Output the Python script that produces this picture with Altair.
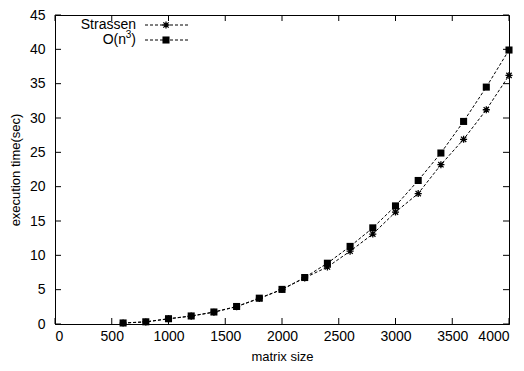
import altair as alt
import pandas as pd

# ---- data ----
sizes = [600, 800, 1000, 1200, 1400, 1600, 1800, 2000, 2200, 2400,
         2600, 2800, 3000, 3200, 3400, 3600, 3800, 4000]
strassen = [0.14, 0.3, 0.75, 1.15, 1.72, 2.52, 3.72, 5.02, 6.72, 8.3,
            10.6, 13.1, 16.3, 19.0, 23.2, 26.9, 31.2, 36.2]
cubic = [0.15, 0.32, 0.77, 1.17, 1.75, 2.55, 3.76, 5.04, 6.77, 8.85,
         11.3, 14.0, 17.2, 20.9, 24.9, 29.5, 34.5, 39.9]
series_names = ["Strassen", "O(n3)"]
cubic_label_parts = ["O(n", "3", ")"]
x_ticks = [0, 500, 1000, 1500, 2000, 2500, 3000, 3500, 4000]
y_ticks = [0, 5, 10, 15, 20, 25, 30, 35, 40, 45]

W, H = 454, 309
FONT = "Liberation Sans"
TICK = 6
ASTERISK = "M-1,0L1,0M0,-1L0,1M-0.75,-0.75L0.75,0.75M-0.75,0.75L0.75,-0.75"
DASH = [3, 2]

df_s = pd.DataFrame({"size": sizes, "time": strassen, "series": series_names[0]})
df_c = pd.DataFrame({"size": sizes, "time": cubic, "series": series_names[1]})

xs = alt.Scale(domain=[0, 4000], nice=False, zero=False)
ys = alt.Scale(domain=[0, 45], nice=False, zero=False)

x_enc = alt.X("size:Q", scale=xs, title="matrix size",
              axis=alt.Axis(values=x_ticks, format="d", ticks=False, grid=False, labelPadding=5,
                            titlePadding=7, domainColor="black", labelOverlap=False))
y_enc = alt.Y("time:Q", scale=ys, title="execution time(sec)",
              axis=alt.Axis(values=y_ticks, format="d", ticks=False, grid=False, labelPadding=10,
                            titlePadding=7, domainColor="black", labelOverlap=False))

def line(df):
    return alt.Chart(df).mark_line(color="black", strokeWidth=1, strokeDash=DASH).encode(
        x=x_enc, y=y_enc)

pts_s = alt.Chart(df_s).mark_point(shape=ASTERISK, size=50, filled=False,
                                   color="black", strokeWidth=1.3, opacity=1).encode(x=x_enc, y=y_enc)
pts_c = alt.Chart(df_c).mark_point(shape="square", size=50, filled=True,
                                   color="black", opacity=1).encode(x=x_enc, y=y_enc)

# inward tick marks on all four sides (gnuplot style)
df_xt = pd.DataFrame({"size": x_ticks})
df_yt = pd.DataFrame({"time": y_ticks})
xt_bot = alt.Chart(df_xt).mark_rule(color="black", strokeWidth=1).encode(
    x=x_enc, y=alt.value(H), y2=alt.value(H - TICK))
xt_top = alt.Chart(df_xt).mark_rule(color="black", strokeWidth=1).encode(
    x=x_enc, y=alt.value(0), y2=alt.value(TICK))
yt_left = alt.Chart(df_yt).mark_rule(color="black", strokeWidth=1).encode(
    y=y_enc, x=alt.value(0), x2=alt.value(TICK))
yt_right = alt.Chart(df_yt).mark_rule(color="black", strokeWidth=1).encode(
    y=y_enc, x=alt.value(W), x2=alt.value(W - TICK))

# legend (top left, gnuplot style: label, then sample)
def txt(s, x, y, size=14, align="right"):
    return alt.Chart(pd.DataFrame({"t": [s]})).mark_text(
        align=align, baseline="middle", font=FONT, fontSize=size, color="black").encode(
        x=alt.value(x), y=alt.value(y), text="t:N")

leg_layers = []
one = pd.DataFrame({"k": [0]})
for i, name in enumerate(series_names):
    yy = 10 + 15 * i
    if i == 0:
        leg_layers.append(txt(name, 81, yy))
    else:
        # O(n^3) with a raised superscript 3
        leg_layers.append(txt(cubic_label_parts[2], 81, yy))
        leg_layers.append(txt(cubic_label_parts[1], 76.3, yy - 5, 10))
        leg_layers.append(txt(cubic_label_parts[0], 71, yy))
    leg_layers.append(alt.Chart(one).mark_rule(color="black", strokeWidth=1, strokeDash=DASH).encode(
        x=alt.value(90), x2=alt.value(133), y=alt.value(yy)))
    if i == 0:
        leg_layers.append(alt.Chart(one).mark_point(shape=ASTERISK, size=50, filled=False,
                                                    color="black", strokeWidth=1.3, opacity=1).encode(
            x=alt.value(111), y=alt.value(yy)))
    else:
        leg_layers.append(alt.Chart(one).mark_point(shape="square", size=50, filled=True,
                                                    color="black", opacity=1).encode(
            x=alt.value(111), y=alt.value(yy)))

chart = alt.layer(
    line(df_s), line(df_c), pts_s, pts_c,
    xt_bot, xt_top, yt_left, yt_right, *leg_layers
).properties(
    width=W, height=H,
    autosize=alt.AutoSizeParams(type="none"),
    padding={"left": 47, "top": 7, "right": 7, "bottom": 39},
    background="white",
).configure_view(
    stroke="black", strokeWidth=1
).configure_axis(
    labelFont=FONT, labelFontSize=14, labelColor="black",
    titleFont=FONT, titleFontSize=13, titleColor="black", titleFontWeight="normal",
    domainWidth=1,
)

chart.save("out.html", embed_options={"renderer": "svg", "actions": False})
